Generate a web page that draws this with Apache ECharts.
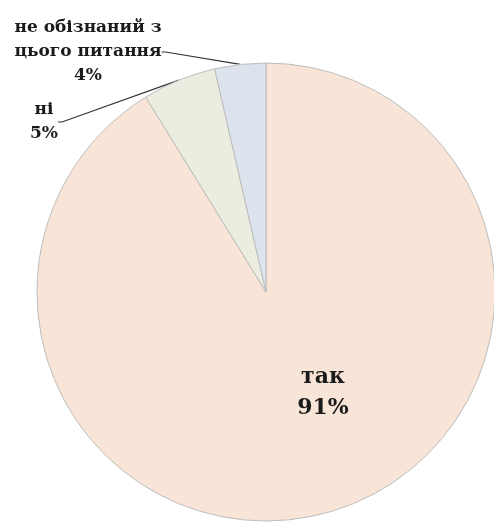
<!DOCTYPE html>
<html>
<head>
<meta charset="utf-8">
<script src="https://cdn.jsdelivr.net/npm/echarts@6/dist/echarts.min.js"></script>
<style>html,body{margin:0;padding:0;background:#fff;}#c{width:494px;height:522px;}</style>
</head>
<body>
<div id="c"></div>
<script>
const categories = ['так', 'ні', 'не обізнаний з\nцього питання'];
const values = [91.2, 5.2, 3.6];
const colors = ['#F8E5D8', '#EBEDE0', '#DCE3EC'];

const chart = echarts.init(document.getElementById('c'), null, {renderer: 'canvas'});
const labelPos = [
  {x: 323, y: 393, align: 'center', verticalAlign: 'middle'},
  {x: 44, y: 122, align: 'center', verticalAlign: 'middle'},
  {x: 88, y: 52, align: 'center', verticalAlign: 'middle'}
];
chart.setOption({
  animation: false,
  series: [{
    type: 'pie',
    center: [266, 292],
    radius: 229,
    startAngle: 90,
    clockwise: true,
    percentPrecision: 0,
    data: categories.map((c, i) => ({
      name: c, value: values[i],
      itemStyle: {color: colors[i]},
      label: i === 0 ? {position: 'inside', fontSize: 22, lineHeight: 31} : {position: 'outside', fontSize: 17, lineHeight: 24}
    })),
    itemStyle: {borderColor: '#bdbdbd', borderWidth: 1},
    label: {
      formatter: '{b}\n{d}%',
      fontFamily: 'DejaVu Serif',
      fontWeight: 'bold',
      color: '#1a1a1a',
      align: 'center'
    },
    labelLine: {show: true, length: 6, length2: 4, smooth: false, lineStyle: {color: '#333', width: 1.2}},
    labelLayout: function (p) {
      return labelPos[p.dataIndex];
    }
  }]
});
</script>
</body>
</html>
